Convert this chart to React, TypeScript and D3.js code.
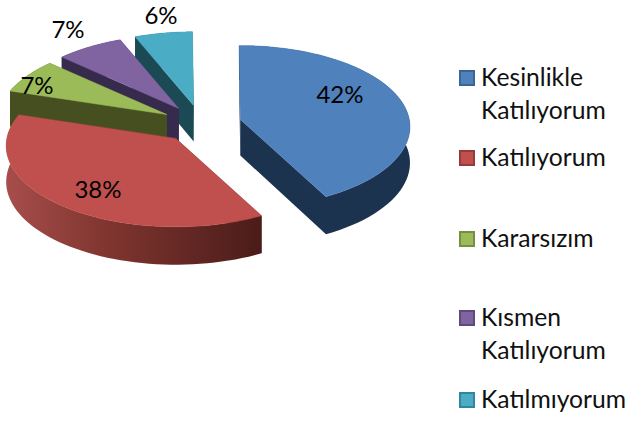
import { useRef, useEffect } from 'react'
import * as d3 from 'd3'

const CATEGORIES = ['Kesinlikle Katılıyorum', 'Katılıyorum', 'Kararsızım', 'Kısmen Katılıyorum', 'Katılmıyorum']
const VALUES = [42.4, 37.6, 7, 7, 6]
const TOP_COLORS = ['#4f81bd', '#c0504d', '#9bbb59', '#8064a2', '#4bacc6']
const WALL_COLORS = ['#1c334f', '#7d3331', '#454f20', '#362a4d', '#1b4a55']
const BORDER_COLORS = ['#3a6595', '#953b39', '#769043', '#604a7b', '#31859c']
const LEGEND_LINES = [['Kesinlikle', 'Katılıyorum'], ['Katılıyorum'], ['Kararsızım'], ['Kısmen', 'Katılıyorum'], ['Katılmıyorum']]
const LEGEND_BASELINES = [86, 166, 247, 326, 408]
const LABEL_CENTERS = [[340, 95], [98, 190], [37, 86], [68, 30], [161, 16]]
const PAINT_ORDER = [4, 3, 2, 0, 1]

const W = 628
const H = 421
const FONT = 'Lato, sans-serif'
const CX = 201.5
const CY = 124
const RX = 169
const RY = 80.4
const DEPTH = 36
const PERSPECTIVE = 0.09
const DEPTH_PERSPECTIVE = 0.05
const EXPLODE = 40
const ROTATION = -0.008

type Pt = [number, number]

// tilted circle with a bit of perspective, front edge comes out larger than the back
const project = (angle: number): Pt => {
  const s = Math.sin(angle)
  const c = -Math.cos(angle)
  const f = 1 / (1 - PERSPECTIVE * c)
  return [RX * s * f, RY * c * f]
}
const drop = (angle: number) => DEPTH / (1 + DEPTH_PERSPECTIVE * Math.cos(angle))

export default function App() {
  const svgRef = useRef<SVGSVGElement | null>(null)

  useEffect(() => {
    const svg = d3.select(svgRef.current)
    svg.selectAll('*').remove()

    const defs = svg.append('defs')
    const grad = defs.append('linearGradient')
      .attr('id', 'redWall')
      .attr('gradientUnits', 'userSpaceOnUse')
      .attr('x1', 4).attr('x2', 260).attr('y1', 0).attr('y2', 0)
    grad.append('stop').attr('offset', 0).attr('stop-color', '#a84e4c')
    grad.append('stop').attr('offset', 0.4).attr('stop-color', '#80352f')
    grad.append('stop').attr('offset', 1).attr('stop-color', '#4b1c1a')

    const pie = d3.pie<number>().sort(null).startAngle(ROTATION)
      .endAngle(2 * Math.PI + ROTATION)
    const arcs = pie(VALUES)
    const line = d3.line()
    const g = svg.append('g')

    PAINT_ORDER.forEach(i => {
      const a = arcs[i]
      const mid = (a.startAngle + a.endAngle) / 2
      const ox = CX + EXPLODE * Math.sin(mid)
      const oy = CY - EXPLODE * 0.47 * Math.cos(mid)
      const angles = d3.range(0, 61).map(k => a.startAngle + (a.endAngle - a.startAngle) * k / 60)
      const rim: Pt[] = angles.map(t => {
        const [x, y] = project(t)
        return [ox + x, oy + y]
      })
      const rimLow: Pt[] = angles.map((t, k) => [rim[k][0], rim[k][1] + drop(t)])
      const apex: Pt = [ox, oy]
      const apexLow: Pt = [ox, oy + DEPTH]

      const sides: Pt[][] = [
        [apex, rim[0], rimLow[0], apexLow],
        [apex, rim[60], rimLow[60], apexLow],
      ]
      g.selectAll(null)
        .data(sides)
        .join('path')
        .attr('d', d => line(d) + 'Z')
        .attr('fill', i === 1 ? '#4b1c1a' : WALL_COLORS[i])

      g.append('path')
        .attr('d', line([...rim, ...rimLow.slice().reverse()]) + 'Z')
        .attr('fill', i === 1 ? 'url(#redWall)' : WALL_COLORS[i])

      g.append('path')
        .attr('d', line([apex, ...rim]) + 'Z')
        .attr('fill', TOP_COLORS[i])
        .attr('stroke', TOP_COLORS[i])
        .attr('stroke-opacity', 0.5)
        .attr('stroke-width', 1)
        .attr('stroke-linejoin', 'round')
    })

    svg.selectAll('text.pct')
      .data(arcs)
      .join('text')
      .attr('class', 'pct')
      .attr('x', (_, i) => LABEL_CENTERS[i][0])
      .attr('y', (_, i) => LABEL_CENTERS[i][1] + 8)
      .attr('text-anchor', 'middle')
      .attr('font-family', FONT)
      .attr('font-size', 24)
      .attr('fill', '#000')
      .text(d => `${Math.round(d.data)}%`)

    const legend = svg.selectAll('g.item')
      .data(CATEGORIES)
      .join('g')
      .attr('class', 'item')

    legend.append('rect')
      .attr('x', 460)
      .attr('y', (_, i) => LEGEND_BASELINES[i] - 15)
      .attr('width', 14)
      .attr('height', 14)
      .attr('fill', (_, i) => TOP_COLORS[i])
      .attr('stroke', (_, i) => BORDER_COLORS[i])
      .attr('stroke-width', 2)

    legend.each(function (_, i) {
      d3.select(this).selectAll('text')
        .data(LEGEND_LINES[i])
        .join('text')
        .attr('x', 481)
        .attr('y', (_, k) => LEGEND_BASELINES[i] + k * 33)
        .attr('font-family', FONT)
        .attr('font-size', 24.7)
        .attr('fill', '#111')
        .text(d => d)
    })
  }, [])

  return <svg ref={svgRef} width={W} height={H} style={{ position: 'absolute', left: 0, top: 0, display: 'block' }} />
}
